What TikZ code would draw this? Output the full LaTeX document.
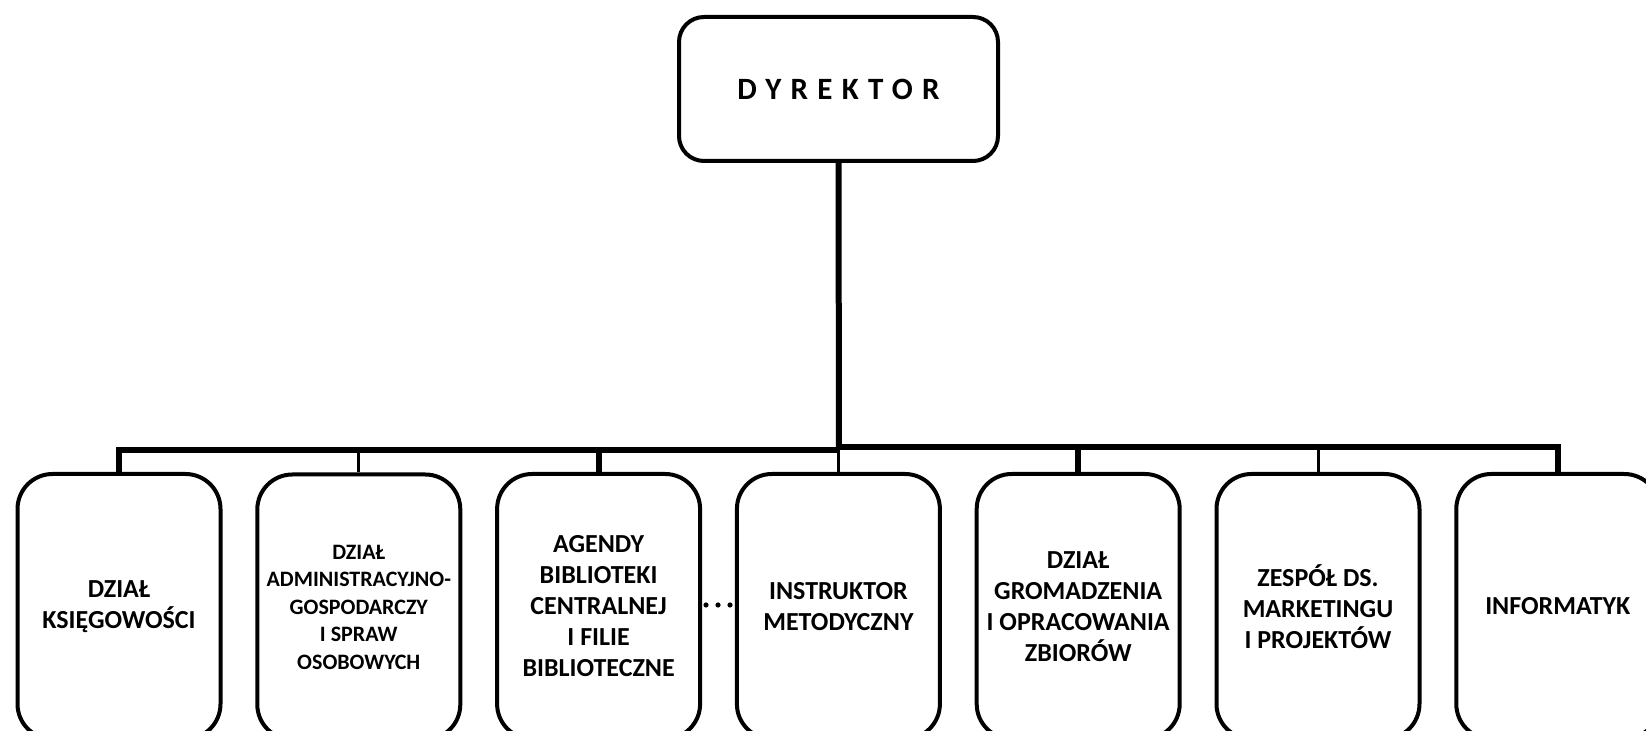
\documentclass[tikz,border=0pt]{standalone}
\usepackage{fontspec}
\setmainfont{Carlito}
\begin{document}
\begin{tikzpicture}[x=0.5pt,y=-0.5pt,
  box/.style={draw, line width=2pt, rounded corners=17.5pt, minimum width=101.5pt, minimum height=132.5pt, align=center, inner sep=0pt, font=\bfseries\fontsize{13}{15.5}\selectfont},
  smalltext/.style={font=\bfseries\fontsize{11}{13.75}\selectfont},
  topbox/.style={draw, line width=2pt, rounded corners=12.5pt, minimum width=159.5pt, minimum height=72pt, inner sep=0pt, font=\bfseries\fontsize{15.5}{18}\selectfont\addfontfeature{LetterSpace=30}},
  thickc/.style={line width=3pt},
  thinc/.style={line width=1.5pt},
  dot/.style={fill=black, circle, inner sep=0pt, minimum size=2.6pt}]
\clip (0,0) rectangle (1646,731);
\node[topbox] (dyr) at (838.5,89) {DYREKTOR};
\node[box] (b1) at (119,606.5) {DZIAŁ\\KSIĘGOWOŚCI};
\node[box, smalltext] (b2) at (358.8,607) {DZIAŁ\\ADMINISTRACYJNO-\\GOSPODARCZY\\I SPRAW\\OSOBOWYCH};
\node[box] (b3) at (598.6,606.5) {AGENDY\\BIBLIOTEKI\\CENTRALNEJ\\I FILIE\\BIBLIOTECZNE};
\node[box] (b4) at (838.4,606.5) {INSTRUKTOR\\METODYCZNY};
\node[box] (b5) at (1078.2,606.5) {DZIAŁ\\GROMADZENIA\\I OPRACOWANIA\\ZBIORÓW};
\node[box] (b6) at (1318,606.5) {ZESPÓŁ DS.\\MARKETINGU\\I PROJEKTÓW};
\node[box] (b7) at (1557.8,606.5) {INFORMATYK};
\coordinate (jl) at (839,450);
\coordinate (jr) at (839,447);
\draw[thickc] (dyr.south) -- (jl);
\draw[thickc] (b1.north) |- (jl);
\draw[thickc] (b7.north) |- (jr);
\draw[thinc] (b2.north) -- (b2.north |- jl);
\draw[thickc] (b3.north) -- (b3.north |- jl);
\draw[thinc] (b4.north) -- (b4.north |- jl);
\draw[thickc] (b5.north) -- (b5.north |- jr);
\draw[thinc] (b6.north) -- (b6.north |- jr);
\node[dot] (d1) at (706,605) {};
\node[dot] (d2) at (718,605) {};
\node[dot] (d3) at (730,605) {};
\end{tikzpicture}
\end{document}
